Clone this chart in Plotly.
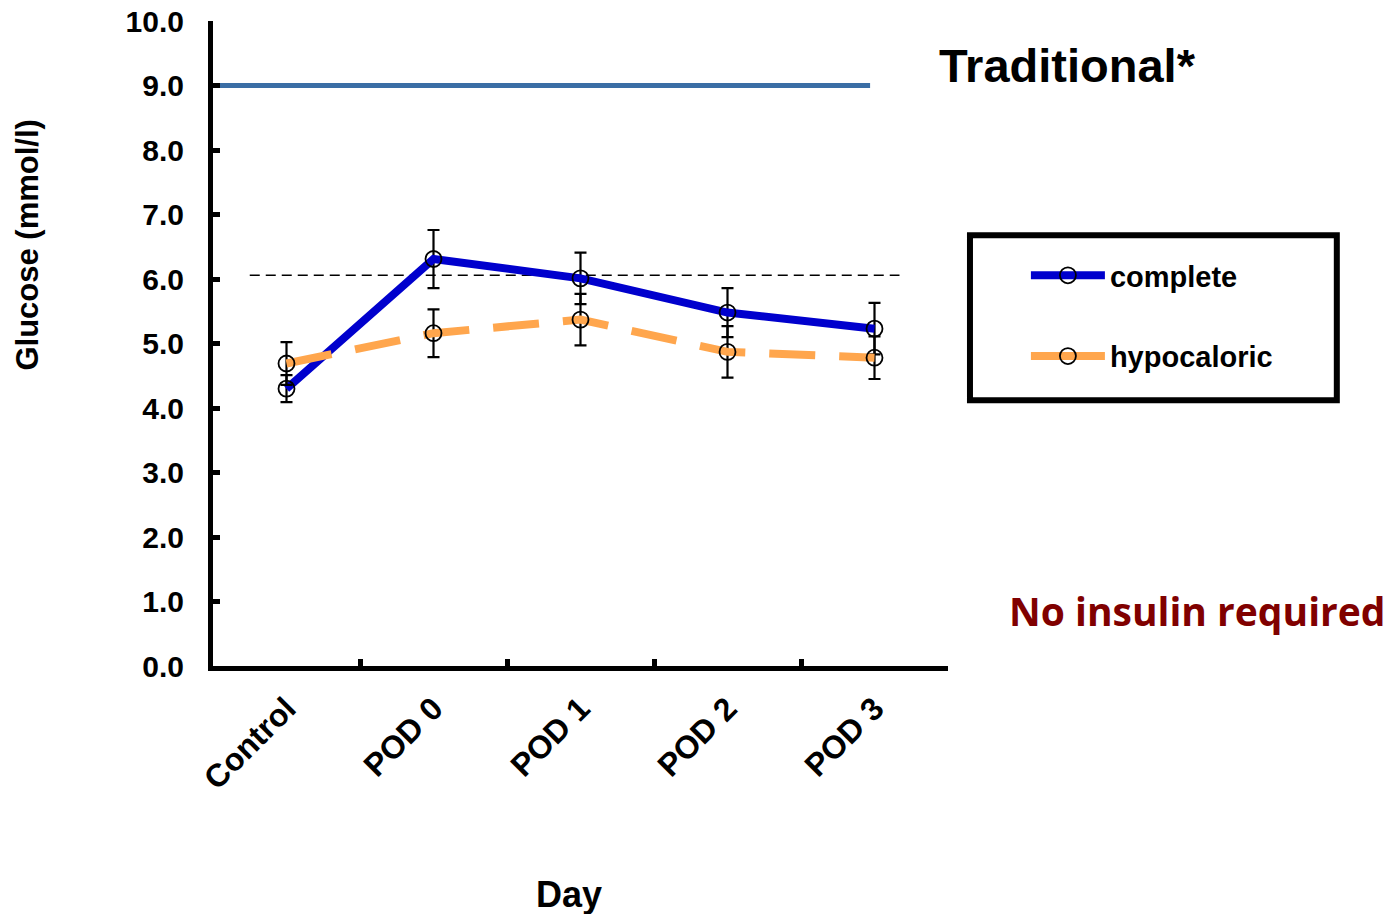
import plotly.graph_objects as go

days = ["Control", "POD 0", "POD 1", "POD 2", "POD 3"]
complete = [4.30, 6.31, 6.01, 5.48, 5.23]
complete_err = [0.21, 0.45, 0.40, 0.38, 0.40]
hypocaloric = [4.69, 5.16, 5.37, 4.87, 4.78]
hypocaloric_err = [0.33, 0.37, 0.40, 0.40, 0.33]
traditional_threshold = 9.0
reference_level = 6.06
y_ticks = [0, 1, 2, 3, 4, 5, 6, 7, 8, 9, 10]

FONT = "Liberation Sans, Arial, sans-serif"
BLUE = "#0000CD"
ORANGE = "#FFA64D"
marker_style = dict(symbol="circle-open", size=16, color="black", line=dict(width=1.8))

fig = go.Figure()

fig.add_trace(go.Scatter(
    x=days, y=complete, name="complete", showlegend=False,
    mode="lines+markers",
    line=dict(color=BLUE, width=8),
    marker=marker_style,
    error_y=dict(type="data", array=complete_err, color="black", thickness=2.2, width=6),
))
fig.add_trace(go.Scatter(
    x=days, y=hypocaloric, name="hypocaloric", showlegend=False,
    mode="lines+markers",
    line=dict(color=ORANGE, width=8, dash="46px,24px"),
    marker=marker_style,
    error_y=dict(type="data", array=hypocaloric_err, color="black", thickness=2.2, width=6),
))
# legend entries (solid line samples, as in the original legend)
fig.add_trace(go.Scatter(x=[None], y=[None], name="complete", legendgroup="a",
                         mode="lines+markers", line=dict(color=BLUE, width=8),
                         marker=marker_style))
fig.add_trace(go.Scatter(x=[None], y=[None], name="hypocaloric", legendgroup="b",
                         mode="lines+markers", line=dict(color=ORANGE, width=8),
                         marker=marker_style))

# traditional threshold line and reference dashed line
fig.add_shape(type="line", xref="x", yref="y", x0=-0.5, x1=3.97,
              y0=traditional_threshold, y1=traditional_threshold,
              line=dict(color="#3B6EA5", width=5), layer="below")
fig.add_shape(type="line", xref="x", yref="y", x0=-0.25, x1=4.17,
              y0=reference_level, y1=reference_level,
              line=dict(color="black", width=1.5, dash="10px,6px"), layer="below")

# legend box
fig.add_shape(type="rect", xref="paper", yref="paper",
              x0=1.0299, x1=1.529, y0=0.412, y1=0.668,
              line=dict(color="black", width=6), fillcolor="rgba(0,0,0,0)")

fig.add_annotation(text="Traditional*", xref="paper", yref="paper",
                   x=0.985, y=0.931, xanchor="left", yanchor="middle",
                   showarrow=False, font=dict(family=FONT, size=47, color="black", weight="bold"))
fig.add_annotation(text="No insulin required", xref="paper", yref="paper",
                   x=1.080, y=0.0868, xanchor="left", yanchor="middle",
                   showarrow=False, font=dict(family="Open Sans, sans-serif", size=39,
                                              color="#800000", weight="bold"))
fig.add_annotation(text="Day", xref="paper", yref="paper",
                   x=0.484, y=-0.355, xanchor="center", yanchor="middle",
                   showarrow=False, font=dict(family=FONT, size=36, color="black", weight="bold"))
fig.add_annotation(text="Glucose (mmol/l)", xref="paper", yref="paper",
                   x=-0.252, y=0.653, xanchor="center", yanchor="middle", textangle=-90,
                   showarrow=False, font=dict(family=FONT, size=31, color="black", weight="bold"))

fig.update_xaxes(
    type="category", range=[-0.5, 4.5],
    showline=True, linecolor="black", linewidth=5,
    ticks="inside", tickson="boundaries", ticklen=7, tickwidth=5, tickcolor="black",
    tickangle=-45, tickfont=dict(family=FONT, size=32, color="black", weight="bold"),
    ticklabelstandoff=6,
    showgrid=False, zeroline=False,
)
fig.update_yaxes(
    range=[0, 10], tickvals=y_ticks, tickformat=".1f",
    showline=True, linecolor="black", linewidth=5,
    ticks="inside", ticklen=7, tickwidth=5, tickcolor="black",
    tickfont=dict(family=FONT, size=30, color="black", weight="bold"),
    ticklabelstandoff=18,
    showgrid=False, zeroline=False,
)

fig.update_layout(
    width=1396, height=914,
    margin=dict(l=213, r=448, t=21, b=248, autoexpand=False),
    plot_bgcolor="white", paper_bgcolor="white",
    showlegend=True,
    legend=dict(
        x=1.106, y=0.645, xanchor="left", yanchor="top",
        bgcolor="rgba(0,0,0,0)", borderwidth=0,
        font=dict(family=FONT, size=29, color="black", weight="bold"),
        itemwidth=74, tracegroupgap=40, traceorder="grouped",
    ),
)

fig.write_html("out.html")
